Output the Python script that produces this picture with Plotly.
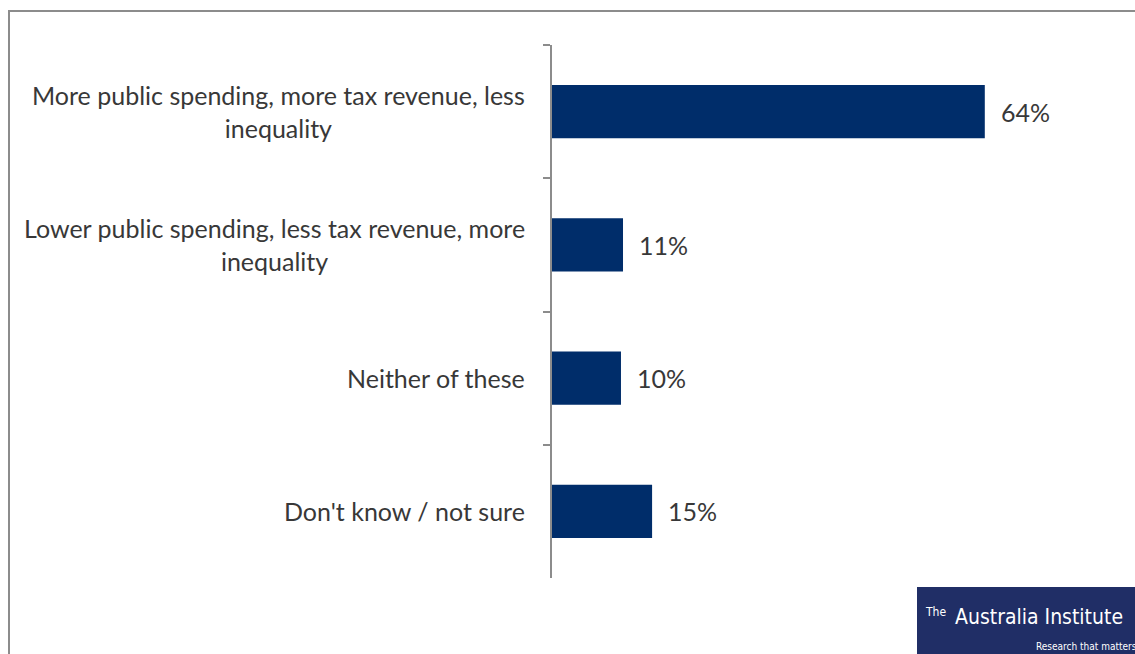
import plotly.graph_objects as go

categories = [
    "More public spending, more tax revenue, less<br>inequality",
    "Lower public spending, less tax revenue, more<br>inequality",
    "Neither of these",
    "Don't know / not sure",
]
values = [0.64, 0.105, 0.102, 0.148]
value_labels = ["64%", "11%", "10%", "15%"]

BAR_COLOR = "#002D6A"
TEXT_COLOR = "#383838"
AXIS_COLOR = "#8C8C8C"
FONT = "Lato, sans-serif"
FS = 25

W, H = 1135, 654
ML, MR, MT, MB = 552, 42, 45, 76
PW = W - ML - MR
PH = H - MT - MB
XMAX = 0.8


def px_x(px):
    return (px - ML) / PW


def px_y(py):
    return 1 - (py - MT) / PH


fig = go.Figure()
fig.add_trace(go.Bar(
    y=categories, x=values, orientation="h",
    marker=dict(color=BAR_COLOR, line=dict(width=0)),
    width=0.4, hoverinfo="skip",
))

annotations = []
for c, v, t in zip(categories, values, value_labels):
    annotations.append(dict(
        x=v, y=c, xref="x", yref="y", text=t, showarrow=False,
        xanchor="left", yanchor="middle", xshift=14,
        font=dict(size=FS, color=TEXT_COLOR, family=FONT),
    ))
    annotations.append(dict(
        x=px_x(527), y=c, xref="paper", yref="y", text=c, showarrow=False,
        xanchor="right", yanchor="middle", align="center",
        font=dict(size=FS, color=TEXT_COLOR, family=FONT),
    ))

shapes = [
    dict(type="rect", xref="paper", yref="paper",
         x0=px_x(9), x1=px_x(1145), y0=px_y(700), y1=px_y(11),
         line=dict(color=AXIS_COLOR, width=2), fillcolor="rgba(0,0,0,0)", layer="below"),
    dict(type="rect", xref="paper", yref="paper",
         x0=px_x(917), x1=px_x(1145), y0=px_y(670), y1=px_y(587),
         line=dict(width=0), fillcolor="#202E66", layer="above"),
]

LOGO_FONT = "Liberation Sans Narrow, DejaVu Sans Condensed, Roboto Condensed, sans-serif"
annotations += [
    dict(xref="paper", yref="paper", x=px_x(948), y=px_y(612),
         xanchor="right", yanchor="middle", showarrow=False,
         text="The", font=dict(size=12, color="white", family=LOGO_FONT)),
    dict(xref="paper", yref="paper", x=px_x(1125), y=px_y(617),
         xanchor="right", yanchor="middle", showarrow=False,
         text="Australia Institute",
         font=dict(size=21, color="white", family=LOGO_FONT)),
    dict(xref="paper", yref="paper", x=px_x(1139), y=px_y(646),
         xanchor="right", yanchor="middle", showarrow=False,
         text="Research that matters",
         font=dict(size=10, color="white", family=LOGO_FONT)),
]

fig.update_layout(
    width=W, height=H,
    margin=dict(l=ML, r=MR, t=MT, b=MB, pad=0),
    paper_bgcolor="white", plot_bgcolor="white",
    showlegend=False,
    bargap=0.6,
    xaxis=dict(range=[0, XMAX], visible=False, fixedrange=True),
    yaxis=dict(
        type="category", autorange="reversed",
        showline=True, linecolor=AXIS_COLOR, linewidth=2,
        ticks="outside", ticklen=7, tickcolor=AXIS_COLOR, tickwidth=2,
        tickson="boundaries", showgrid=False, zeroline=False,
        showticklabels=False, fixedrange=True,
    ),
    shapes=shapes,
    annotations=annotations,
)

fig.write_html(
    "out.html",
    config={"displayModeBar": False},
    post_script="document.body.style.margin='0';document.body.style.overflow='hidden';",
)
